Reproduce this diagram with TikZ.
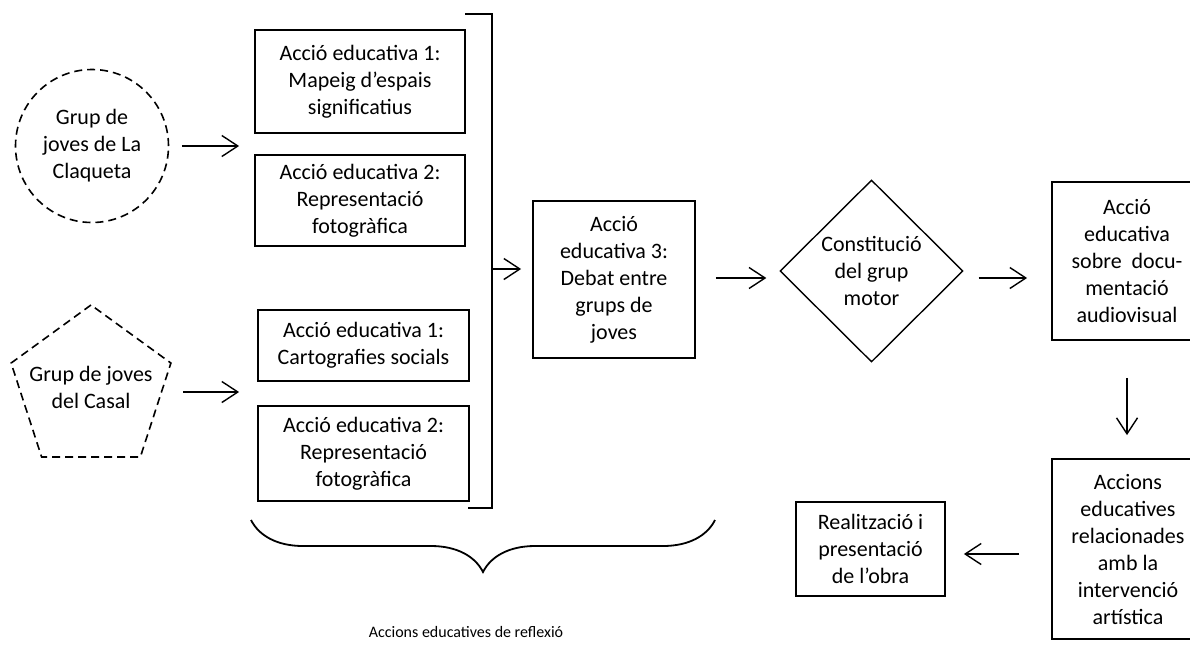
\documentclass[tikz,border=0pt]{standalone}
\usepackage{fontspec}
\setmainfont{Carlito}
\usepackage{tikz}
\usetikzlibrary{arrows.meta,positioning,shapes.geometric,decorations.pathreplacing}

\begin{document}
\begin{tikzpicture}[
  x=1pt, y=-1pt,
  font=\fontsize{22}{27}\selectfont,
  box/.style={draw, line width=1.8pt, align=center, inner sep=0pt},
  grp/.style={draw, dash pattern=on 8pt off 5pt, line width=1.6pt, align=center, inner sep=0pt},
  arr/.style={-{Straight Barb[length=16pt,width=21pt]}, line width=1.4pt}
]
\useasboundingbox (0,0) rectangle (1190,665);

\node[grp, circle, minimum size=153pt] (claq) at (92,146) {Grup de\\joves de La\\Claqueta};
\node[grp, regular polygon, regular polygon sides=5, minimum size=168pt,
  label={[align=center, yshift=2pt]center:Grup de joves\\del Casal}] (casal) at (91,389) {};

\node[box, minimum width=210pt, minimum height=103pt] (mapeig) at (360,81.5) {Acció educativa 1:\\Mapeig d’espais\\significatius};
\node[box, minimum width=210pt, minimum height=91pt] (fotoa) at (360,200.5) {Acció educativa 2:\\Representació\\fotogràfica};
\node[box, minimum width=211pt, minimum height=71pt] (carto) at (363.5,345.5) {Acció educativa 1:\\Cartografies socials};
\node[box, minimum width=211pt, minimum height=95pt] (fotob) at (363.5,453.5) {Acció educativa 2:\\Representació\\fotogràfica};
\node[box, minimum width=162pt, minimum height=157pt] (debat) at (614,279.5) {Acció\\educativa 3:\\Debat entre\\grups de\\joves};
\node[box, diamond, aspect=1, line width=1.4pt, minimum width=183pt, minimum height=182pt] (motor) at (871.5,271) {Constitució\\del grup\\motor};
\node[box, minimum width=150pt, minimum height=158pt] (docu) at (1127,261) {Acció\\educativa\\sobre\ \ docu-\\mentació\\audiovisual};
\node[box, minimum width=152pt, minimum height=180pt] (artis) at (1128,549) {Accions\\educatives\\relacionades\\amb la\\intervenció\\artística};
\node[box, minimum width=149pt, minimum height=94pt] (obra) at (870.5,549) {Realització i\\presentació\\de l’obra};

\draw[line width=1.8pt] (465,14) -| (492,508) -- (468,508);
\coordinate (brk) at (492,269);

\draw[arr, shorten <=12.5pt, shorten >=15pt] (claq.east) -- (mapeig.west |- claq);
\draw[arr, shorten <=20pt, shorten >=18pt] (casal.east |- 0,392) -- (carto.west |- 0,392);
\draw[arr, shorten >=11pt] (brk) -- (brk -| debat.west);
\draw[arr, shorten <=20pt, shorten >=13pt] (debat.east |- 0,278) -- (motor.west |- 0,278);
\draw[arr, shorten <=15pt, shorten >=24pt] (motor.east |- 0,278) -- (docu.west |- 0,278);
\draw[arr, shorten <=37pt, shorten >=23pt] (docu.south) -- (docu.south |- artis.north);
\draw[arr, shorten <=32pt, shorten >=18pt] (artis.west |- 0,554) -- (obra.east |- 0,554);

\draw[line width=1.8pt, decorate, decoration={brace, mirror, amplitude=52pt}] (251,520) -- (715,520);
\node[font=\fontsize{16}{20}\selectfont] (refl) at (466,632) {Accions educatives de reflexió};
\end{tikzpicture}
\end{document}
